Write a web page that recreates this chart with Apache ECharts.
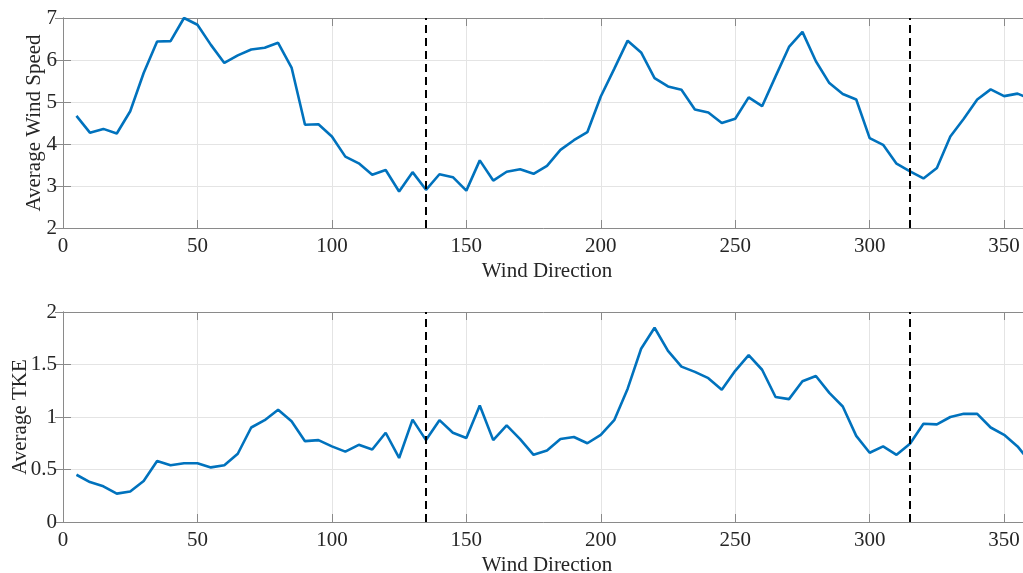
<!DOCTYPE html>
<html>
<head>
<meta charset="utf-8">
<script src="https://cdn.jsdelivr.net/npm/echarts@6.0.0/dist/echarts.min.js"></script>
<style>
  html, body { margin: 0; padding: 0; background: #fff; }
  #chart { width: 1023px; height: 573px; }
</style>
</head>
<body>
<div id="chart"></div>
<script>
// 风向（每5度一个区间）
const directions = [
  5, 10, 15, 20, 25, 30, 35, 40, 45, 50, 55, 60, 65, 70, 75, 80, 85, 90,
  95, 100, 105, 110, 115, 120, 125, 130, 135, 140, 145, 150, 155, 160, 165, 170, 175, 180,
  185, 190, 195, 200, 205, 210, 215, 220, 225, 230, 235, 240, 245, 250, 255, 260, 265, 270,
  275, 280, 285, 290, 295, 300, 305, 310, 315, 320, 325, 330, 335, 340, 345, 350, 355, 360
];

// 平均风速
const windSpeed = [
  4.67, 4.27, 4.36, 4.25, 4.78, 5.69, 6.44, 6.45, 7.0, 6.84, 6.36, 5.93, 6.11, 6.25, 6.29, 6.41, 5.82, 4.46,
  4.47, 4.18, 3.70, 3.54, 3.27, 3.38, 2.87, 3.33, 2.91, 3.28, 3.21, 2.89, 3.61, 3.13, 3.34, 3.40, 3.29, 3.48,
  3.86, 4.09, 4.28, 5.13, 5.79, 6.46, 6.18, 5.57, 5.37, 5.29, 4.82, 4.75, 4.50, 4.60, 5.11, 4.90, 5.61, 6.31,
  6.67, 5.97, 5.45, 5.19, 5.06, 4.14, 3.98, 3.53, 3.35, 3.18, 3.43, 4.18, 4.60, 5.06, 5.30, 5.14, 5.20, 5.07
];

// 平均湍动能
const tke = [
  0.45, 0.38, 0.34, 0.27, 0.29, 0.39, 0.58, 0.54, 0.56, 0.56, 0.52, 0.54, 0.65, 0.90, 0.97, 1.07, 0.96, 0.77,
  0.78, 0.72, 0.67, 0.735, 0.69, 0.85, 0.61, 0.975, 0.78, 0.97, 0.85, 0.80, 1.11, 0.78, 0.92, 0.79, 0.64, 0.68,
  0.79, 0.81, 0.75, 0.83, 0.97, 1.27, 1.65, 1.85, 1.63, 1.48, 1.43, 1.37, 1.26, 1.44, 1.59, 1.45, 1.19, 1.17,
  1.34, 1.39, 1.23, 1.10, 0.82, 0.66, 0.72, 0.64, 0.745, 0.935, 0.93, 1.00, 1.03, 1.03, 0.90, 0.83, 0.72, 0.56
];

// 虚线标记的风向
const markDirections = [135, 315];

const font = 'Liberation Serif';
const textColor = '#262626';
const boxColor = '#8a8a8a';
const gridColor = '#e4e4e4';

function xAxisPair(gridIndex) {
  const base = {
    gridIndex: gridIndex,
    type: 'value',
    min: 0,
    max: 360,
    interval: 50,
    axisLine: { show: true, onZero: false, lineStyle: { color: boxColor, width: 1 } },
    axisTick: { show: true, inside: true, length: 8, lineStyle: { color: boxColor } }
  };
  return [
    Object.assign({}, base, {
      position: 'bottom',
      name: 'Wind Direction',
      nameLocation: 'middle',
      nameGap: 33,
      nameMoveOverlap: false,
      nameTextStyle: { fontFamily: font, fontSize: 21, color: textColor },
      axisLabel: {
        fontFamily: font, fontSize: 21, color: textColor, margin: 8,
        showMaxLabel: false
      },
      splitLine: { show: true, lineStyle: { color: gridColor, width: 1 } }
    }),
    Object.assign({}, base, {
      position: 'top',
      axisLabel: { show: false },
      splitLine: { show: false }
    })
  ];
}

function yAxisPair(gridIndex, name, min, max, interval, gap) {
  const base = {
    gridIndex: gridIndex,
    type: 'value',
    min: min,
    max: max,
    interval: interval,
    axisLine: { show: true, lineStyle: { color: boxColor, width: 1 } },
    axisTick: { show: true, inside: true, length: 8, lineStyle: { color: boxColor } }
  };
  return [
    Object.assign({}, base, {
      position: 'left',
      name: name,
      nameLocation: 'middle',
      nameGap: gap,
      nameMoveOverlap: false,
      nameTextStyle: { fontFamily: font, fontSize: 21, color: textColor },
      axisLabel: { fontFamily: font, fontSize: 21, color: textColor, margin: 6 },
      splitLine: { show: true, lineStyle: { color: gridColor, width: 1 } }
    }),
    Object.assign({}, base, {
      position: 'right',
      axisLabel: { show: false },
      splitLine: { show: false }
    })
  ];
}

function lineSeries(xIndex, yIndex, values) {
  return {
    type: 'line',
    xAxisIndex: xIndex,
    yAxisIndex: yIndex,
    data: directions.map((d, i) => [d, values[i]]),
    showSymbol: false,
    symbol: 'none',
    lineStyle: { color: '#0072BD', width: 2.6 },
    itemStyle: { color: '#0072BD' },
    z: 3,
    markLine: {
      silent: true,
      symbol: ['none', 'none'],
      label: { show: false },
      animation: false,
      lineStyle: { color: '#000', width: 2, type: [8, 5] },
      data: markDirections.map((d) => ({ xAxis: d }))
    }
  };
}

const myChart = echarts.init(document.getElementById('chart'));

const option = {
  animation: false,
  backgroundColor: '#fff',
  grid: [
    { left: 63, top: 18, width: 968, height: 210, containLabel: false, outerBoundsMode: 'none' },
    { left: 63, top: 312, width: 968, height: 210, containLabel: false, outerBoundsMode: 'none' }
  ],
  xAxis: [].concat(xAxisPair(0), xAxisPair(1)),
  yAxis: [].concat(
    yAxisPair(0, 'Average Wind Speed', 2, 7, 1, 18),
    yAxisPair(1, 'Average TKE', 0, 2, 0.5, 32)
  ),
  series: [
    lineSeries(0, 0, windSpeed),
    lineSeries(2, 2, tke)
  ]
};

myChart.setOption(option);
</script>
</body>
</html>
